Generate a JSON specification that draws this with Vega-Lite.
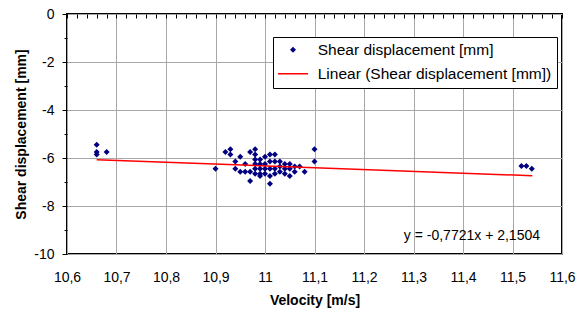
{
  "$schema": "https://vega.github.io/schema/vega-lite/v6.json",
  "width": 495,
  "height": 240,
  "autosize": {"type": "none"},
  "padding": {"left": 67, "top": 14, "right": 15, "bottom": 62},
  "config": {
    "locale": {"number": {"decimal": ",", "thousands": ".", "grouping": [3], "currency": ["", ""], "minus": "-"}},
    "font": "Liberation Sans",
    "view": {"stroke": "black", "strokeWidth": 2},
    "axis": {
      "labelFont": "Liberation Sans", "titleFont": "Liberation Sans",
      "labelFontSize": 14, "titleFontSize": 14,
      "labelColor": "black", "titleColor": "black",
      "domain": false, "tickColor": "black",
      "gridColor": "#a8a8a8", "gridWidth": 1
    }
  },
  "datasets": {
    "points": [
      {"velocity": 10.66, "shear": -5.45, "series": "Shear displacement [mm]"},
      {"velocity": 10.66, "shear": -5.75, "series": "Shear displacement [mm]"},
      {"velocity": 10.66, "shear": -5.85, "series": "Shear displacement [mm]"},
      {"velocity": 10.68, "shear": -5.75, "series": "Shear displacement [mm]"},
      {"velocity": 10.90, "shear": -6.45, "series": "Shear displacement [mm]"},
      {"velocity": 10.92, "shear": -5.75, "series": "Shear displacement [mm]"},
      {"velocity": 10.93, "shear": -5.64, "series": "Shear displacement [mm]"},
      {"velocity": 10.93, "shear": -5.85, "series": "Shear displacement [mm]"},
      {"velocity": 10.94, "shear": -6.15, "series": "Shear displacement [mm]"},
      {"velocity": 10.94, "shear": -6.45, "series": "Shear displacement [mm]"},
      {"velocity": 10.95, "shear": -5.95, "series": "Shear displacement [mm]"},
      {"velocity": 10.95, "shear": -6.57, "series": "Shear displacement [mm]"},
      {"velocity": 10.96, "shear": -6.25, "series": "Shear displacement [mm]"},
      {"velocity": 10.96, "shear": -6.57, "series": "Shear displacement [mm]"},
      {"velocity": 10.97, "shear": -5.75, "series": "Shear displacement [mm]"},
      {"velocity": 10.97, "shear": -6.57, "series": "Shear displacement [mm]"},
      {"velocity": 10.97, "shear": -6.96, "series": "Shear displacement [mm]"},
      {"velocity": 10.98, "shear": -5.64, "series": "Shear displacement [mm]"},
      {"velocity": 10.98, "shear": -5.85, "series": "Shear displacement [mm]"},
      {"velocity": 10.98, "shear": -6.06, "series": "Shear displacement [mm]"},
      {"velocity": 10.98, "shear": -6.25, "series": "Shear displacement [mm]"},
      {"velocity": 10.98, "shear": -6.45, "series": "Shear displacement [mm]"},
      {"velocity": 10.98, "shear": -6.66, "series": "Shear displacement [mm]"},
      {"velocity": 10.99, "shear": -6.06, "series": "Shear displacement [mm]"},
      {"velocity": 10.99, "shear": -6.25, "series": "Shear displacement [mm]"},
      {"velocity": 10.99, "shear": -6.45, "series": "Shear displacement [mm]"},
      {"velocity": 10.99, "shear": -6.66, "series": "Shear displacement [mm]"},
      {"velocity": 10.99, "shear": -6.75, "series": "Shear displacement [mm]"},
      {"velocity": 11.00, "shear": -5.95, "series": "Shear displacement [mm]"},
      {"velocity": 11.00, "shear": -6.25, "series": "Shear displacement [mm]"},
      {"velocity": 11.00, "shear": -6.45, "series": "Shear displacement [mm]"},
      {"velocity": 11.00, "shear": -6.66, "series": "Shear displacement [mm]"},
      {"velocity": 11.01, "shear": -5.85, "series": "Shear displacement [mm]"},
      {"velocity": 11.01, "shear": -6.15, "series": "Shear displacement [mm]"},
      {"velocity": 11.01, "shear": -6.45, "series": "Shear displacement [mm]"},
      {"velocity": 11.01, "shear": -6.75, "series": "Shear displacement [mm]"},
      {"velocity": 11.01, "shear": -7.07, "series": "Shear displacement [mm]"},
      {"velocity": 11.02, "shear": -5.85, "series": "Shear displacement [mm]"},
      {"velocity": 11.02, "shear": -6.15, "series": "Shear displacement [mm]"},
      {"velocity": 11.02, "shear": -6.45, "series": "Shear displacement [mm]"},
      {"velocity": 11.02, "shear": -6.66, "series": "Shear displacement [mm]"},
      {"velocity": 11.03, "shear": -6.15, "series": "Shear displacement [mm]"},
      {"velocity": 11.03, "shear": -6.35, "series": "Shear displacement [mm]"},
      {"velocity": 11.03, "shear": -6.57, "series": "Shear displacement [mm]"},
      {"velocity": 11.04, "shear": -6.25, "series": "Shear displacement [mm]"},
      {"velocity": 11.04, "shear": -6.45, "series": "Shear displacement [mm]"},
      {"velocity": 11.04, "shear": -6.66, "series": "Shear displacement [mm]"},
      {"velocity": 11.05, "shear": -6.25, "series": "Shear displacement [mm]"},
      {"velocity": 11.05, "shear": -6.45, "series": "Shear displacement [mm]"},
      {"velocity": 11.05, "shear": -6.75, "series": "Shear displacement [mm]"},
      {"velocity": 11.06, "shear": -6.35, "series": "Shear displacement [mm]"},
      {"velocity": 11.06, "shear": -6.57, "series": "Shear displacement [mm]"},
      {"velocity": 11.07, "shear": -6.35, "series": "Shear displacement [mm]"},
      {"velocity": 11.08, "shear": -6.57, "series": "Shear displacement [mm]"},
      {"velocity": 11.10, "shear": -5.64, "series": "Shear displacement [mm]"},
      {"velocity": 11.10, "shear": -6.15, "series": "Shear displacement [mm]"},
      {"velocity": 11.518, "shear": -6.33, "series": "Shear displacement [mm]"},
      {"velocity": 11.528, "shear": -6.33, "series": "Shear displacement [mm]"},
      {"velocity": 11.539, "shear": -6.45, "series": "Shear displacement [mm]"}
    ],
    "trend": [
      {"velocity": 10.66, "shear": -6.07, "series": "Linear (Shear displacement [mm])"},
      {"velocity": 11.54, "shear": -6.74, "series": "Linear (Shear displacement [mm])"}
    ],
    "note": [
      {"velocity": 11.418, "shear": -9.25, "label": "y = -0,7721x + 2,1504"}
    ]
  },
  "resolve": {"axis": {"x": "independent", "y": "independent"}},
  "layer": [
    {
      "data": {"name": "points"},
      "mark": {"type": "point", "filled": true, "size": 36, "opacity": 1},
      "encoding": {
        "x": {
          "field": "velocity", "type": "quantitative",
          "scale": {"domain": [10.6, 11.6], "nice": false, "zero": false},
          "axis": {
            "orient": "bottom",
            "values": [10.6, 10.7, 10.8, 10.9, 11, 11.1, 11.2, 11.3, 11.4, 11.5, 11.6],
            "format": ".1~f", "grid": true, "tickSize": 0, "labelPadding": 16,
            "labelFlush": false, "labelOverlap": false,
            "title": "Velocity [m/s]", "titleFontWeight": "bold", "titlePadding": 9
          }
        },
        "y": {
          "field": "shear", "type": "quantitative",
          "scale": {"domain": [-10, 0], "nice": false, "zero": false},
          "axis": {
            "values": [-10, -9.5, -9, -8.5, -8, -7.5, -7, -6.5, -6, -5.5, -5, -4.5, -4, -3.5, -3, -2.5, -2, -1.5, -1, -0.5, 0],
            "format": "d",
            "labelExpr": "datum.value % 2 == 0 ? datum.label : ''",
            "grid": true,
            "gridOpacity": {"condition": {"test": "datum.value % 2 == 0", "value": 1}, "value": 0},
            "tickSize": {"condition": {"test": "datum.value % 2 == 0", "value": 5}, "value": 3},
            "labelPadding": 8, "labelFlush": false, "labelOverlap": false,
            "title": "Shear displacement [mm]", "titleFontWeight": "bold", "titlePadding": 5
          }
        },
        "fill": {
          "field": "series", "type": "nominal",
          "scale": {"domain": ["Shear displacement [mm]", "Linear (Shear displacement [mm])"], "range": ["#000080", "transparent"]}
        },
        "stroke": {
          "field": "series", "type": "nominal",
          "scale": {"domain": ["Shear displacement [mm]", "Linear (Shear displacement [mm])"], "range": ["transparent", "#ff0000"]}
        },
        "shape": {
          "field": "series", "type": "nominal",
          "scale": {"domain": ["Shear displacement [mm]", "Linear (Shear displacement [mm])"], "range": ["M0,-1L1,0L0,1L-1,0Z", "M-5,0H5"]},
          "legend": {
            "orient": "none", "legendX": 206, "legendY": 23,
            "title": null, "strokeColor": "black", "fillColor": "white",
            "padding": 5, "labelFontSize": 15.5, "labelFont": "Liberation Sans", "labelColor": "black",
            "labelLimit": 0, "symbolStrokeWidth": 1.5, "symbolOpacity": 1,
            "symbolSize": 36, "symbolOffset": 7.25, "labelOffset": 17, "rowPadding": 7
          }
        }
      }
    },
    {
      "data": {"name": "trend"},
      "mark": {"type": "line", "strokeWidth": 1.5, "color": "#ff0000"},
      "encoding": {
        "x": {
          "field": "velocity", "type": "quantitative",
          "axis": {
            "orient": "top",
            "values": [10.6, 10.62, 10.64, 10.66, 10.68, 10.7, 10.72, 10.74, 10.76, 10.78, 10.8, 10.82, 10.84, 10.86, 10.88, 10.9, 10.92, 10.94, 10.96, 10.98, 11, 11.02, 11.04, 11.06, 11.08, 11.1, 11.12, 11.14, 11.16, 11.18, 11.2, 11.22, 11.24, 11.26, 11.28, 11.3, 11.32, 11.34, 11.36, 11.38, 11.4, 11.42, 11.44, 11.46, 11.48, 11.5, 11.52, 11.54, 11.56, 11.58, 11.6],
            "labels": false, "grid": false, "tickSize": -4, "title": null
          }
        },
        "y": {"field": "shear", "type": "quantitative", "axis": null}
      }
    },
    {
      "data": {"name": "note"},
      "mark": {"type": "text", "fontSize": 14, "font": "Liberation Sans", "color": "black", "align": "center", "baseline": "middle"},
      "encoding": {
        "x": {"field": "velocity", "type": "quantitative", "axis": null},
        "y": {"field": "shear", "type": "quantitative", "axis": null},
        "text": {"field": "label"}
      }
    }
  ]
}
